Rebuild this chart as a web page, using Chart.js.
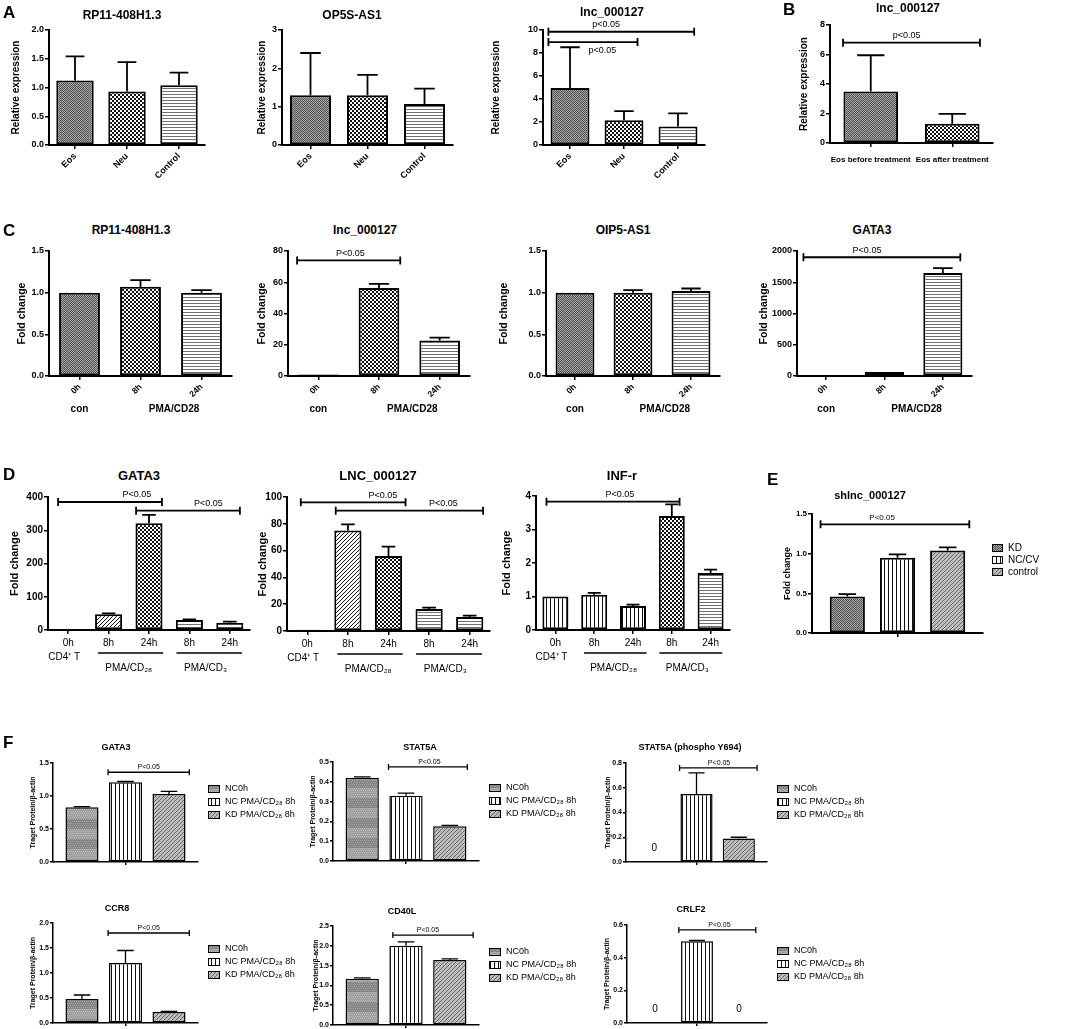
<!DOCTYPE html>
<html>
<head>
<meta charset="utf-8">
<script src="https://cdn.jsdelivr.net/npm/chart.js@4/dist/chart.umd.min.js"></script>
<style>
  body { margin: 0; background: #fff; width: 1084px; height: 1029px; position: relative; overflow: hidden; font-family: Arial, "Liberation Sans", sans-serif; }
  canvas { position: absolute; }
  .t { position: absolute; transform: translate(-50%, -50%); font-weight: bold; white-space: nowrap; color: #000; }
  .p { position: absolute; transform: translateY(-50%); font-weight: bold; color: #000; }
</style>
</head>
<body>
<script>
// ---- data ----
const aCats = ["Eos", "Neu", "Control"];
const a1Values = [1.12, 0.93, 1.04];
const a1Errors = [0.42, 0.51, 0.22];
const a2Values = [1.30, 1.30, 1.07];
const a2Errors = [1.10, 0.53, 0.40];
const a3Values = [4.95, 2.15, 1.60];
const a3Errors = [3.55, 0.80, 1.15];

const bCats = ["Eos before treatment", "Eos after treatment"];
const bValues = [3.5, 1.3];
const bErrors = [2.45, 0.68];

const cCats = ["0h", "8h", "24h"];
const c1Values = [1.0, 1.07, 1.0];
const c1Errors = [0, 0.08, 0.03];
const c2Values = [1, 56.4, 22.8];
const c2Errors = [0, 2.6, 1.8];
const c3Values = [1.0, 1.0, 1.02];
const c3Errors = [0, 0.03, 0.03];
const c4Values = [0, 65, 1650];
const c4Errors = [0, 0, 75];

const dCats = ["0h", "8h", "24h", "8h", "24h"];
const d1Values = [1, 47, 321, 30, 22];
const d1Errors = [0, 3, 25, 2, 3];
const d2Values = [1, 75, 56, 16.5, 10.5];
const d2Errors = [0, 4.5, 7, 1, 1];
const d3Values = [1.0, 1.05, 0.72, 3.4, 1.7];
const d3Errors = [0, 0.06, 0.04, 0.35, 0.1];

const eSeries = ["KD", "NC/CV", "control"];
const eValues = [0.46, 0.95, 1.04];
const eErrors = [0.03, 0.04, 0.04];

const fSeries = ["NC0h", "NC PMA/CD₂₈ 8h", "KD PMA/CD₂₈ 8h"];
const fGata3 = [0.83, 1.21, 1.03];
const fGata3Err = [0.01, 0.01, 0.04];
const fStat5a = [0.42, 0.33, 0.175];
const fStat5aErr = [0.005, 0.013, 0.005];
const fPStat5a = [0, 0.55, 0.19];
const fPStat5aErr = [0, 0.17, 0.01];
const fCcr8 = [0.48, 1.2, 0.22];
const fCcr8Err = [0.08, 0.25, 0.01];
const fCd40l = [1.17, 2.0, 1.64];
const fCd40lErr = [0.02, 0.1, 0.03];
const fCrlf2 = [0, 0.5, 0];
const fCrlf2Err = [0, 0.005, 0];

const FONT = "Arial, 'Liberation Sans', sans-serif";

// ---- fill patterns ----
function tile(w, h, draw) {
  const c = document.createElement("canvas");
  c.width = w; c.height = h;
  const g = c.getContext("2d");
  draw(g);
  return g.createPattern(c, "repeat");
}
const pat = {
  gray: tile(2, 2, g => { g.fillStyle = "#a4a4a4"; g.fillRect(0, 0, 2, 2); g.fillStyle = "#555"; g.fillRect(0, 0, 1, 1); g.fillRect(1, 1, 1, 1); }),
  check: tile(4, 4, g => { g.fillStyle = "#fff"; g.fillRect(0, 0, 4, 4); g.fillStyle = "#111"; g.fillRect(0, 0, 2, 2); g.fillRect(2, 2, 2, 2); }),
  hline: tile(1, 3, g => { g.fillStyle = "#fff"; g.fillRect(0, 0, 1, 3); g.fillStyle = "#707070"; g.fillRect(0, 0, 1, 1); }),
  vline: tile(4, 1, g => { g.fillStyle = "#fff"; g.fillRect(0, 0, 4, 1); g.fillStyle = "#111"; g.fillRect(0, 0, 1, 1); }),
  hatch: tile(4, 4, g => { g.fillStyle = "#fff"; g.fillRect(0, 0, 4, 4); g.fillStyle = "#111"; for (let i = 0; i < 4; i++) g.fillRect(i, 3 - i, 1, 1); }),
  grayHatch: tile(4, 4, g => { g.fillStyle = "#bdbdbd"; g.fillRect(0, 0, 4, 4); g.fillStyle = "#666"; for (let i = 0; i < 4; i++) g.fillRect(i, 3 - i, 1, 1); }),
  band: tile(2, 20, g => {
    g.fillStyle = "#a0a0a0"; g.fillRect(0, 0, 2, 10);
    g.fillStyle = "#858585"; g.fillRect(0, 10, 2, 10);
    g.fillStyle = "rgba(255,255,255,0.25)"; for (let y = 0; y < 20; y += 2) g.fillRect(y % 4 ? 0 : 1, y, 1, 1);
  })
};
const abcPats = [pat.gray, pat.check, pat.hline];
const dPats = [pat.vline, pat.hatch, pat.check, pat.hline, pat.hline];
const d3Pats = [pat.vline, pat.vline, pat.vline, pat.check, pat.hline];
const ePats = [pat.gray, pat.vline, pat.grayHatch];
const fPats = [pat.band, pat.vline, pat.grayHatch];

// ---- error bars, brackets, group labels, legends ----
const extras = {
  id: "extras",
  afterDatasetsDraw(chart, args, opts) {
    const ctx = chart.ctx, xs = chart.scales.x, ys = chart.scales.y;
    ctx.save();
    ctx.strokeStyle = "#000";
    ctx.fillStyle = "#000";
    ctx.lineWidth = opts.lw || 1.8;
    chart.data.datasets.forEach((ds, i) => {
      chart.getDatasetMeta(i).data.forEach((bar, j) => {
        const e = ds.errors[j];
        if (e) {
          const top = ys.getPixelForValue(ds.data[j] + e);
          const half = bar.width / 4;
          ctx.beginPath();
          ctx.moveTo(bar.x, bar.y); ctx.lineTo(bar.x, top);
          ctx.moveTo(bar.x - half, top); ctx.lineTo(bar.x + half, top);
          ctx.stroke();
        }
        if (opts.zeros && ds.data[j] === 0) {
          ctx.font = "10px " + FONT;
          ctx.textAlign = "center"; ctx.textBaseline = "middle";
          ctx.fillText("0", bar.x, ys.bottom - 14);
        }
      });
    });
    (opts.brackets || []).forEach(b => {
      const x1 = xs.getPixelForValue(b[0]), x2 = xs.getPixelForValue(b[1]);
      const y = ys.getPixelForValue(b[2]);
      const tk = opts.tick || 4;
      ctx.beginPath();
      ctx.moveTo(x1, y); ctx.lineTo(x2, y);
      ctx.moveTo(x1, y - tk); ctx.lineTo(x1, y + tk);
      ctx.moveTo(x2, y - tk); ctx.lineTo(x2, y + tk);
      ctx.stroke();
      ctx.font = (opts.bsize || 9) + "px " + FONT;
      ctx.textAlign = "center"; ctx.textBaseline = "middle";
      const off = opts.boff || 7;
      ctx.fillText(b[3], xs.getPixelForValue(b[5]), b[4] === "below" ? y + off + 1 : y - off);
    });
    (opts.lines || []).forEach(l => {
      const y = ys.bottom + l[2];
      ctx.lineWidth = 1.5;
      ctx.beginPath();
      ctx.moveTo(xs.getPixelForValue(l[0]), y); ctx.lineTo(xs.getPixelForValue(l[1]), y);
      ctx.stroke();
    });
    (opts.under || []).forEach(u => {
      ctx.font = u[3] + " " + FONT;
      ctx.textAlign = "center"; ctx.textBaseline = "middle";
      ctx.fillText(u[0], xs.getPixelForValue(u[1]), ys.bottom + u[2]);
    });
    if (opts.legend) {
      const L = opts.legend;
      ctx.font = L.size + "px " + FONT;
      ctx.textAlign = "left"; ctx.textBaseline = "middle";
      ctx.lineWidth = 1;
      chart.data.datasets.forEach((ds, i) => {
        const x = chart.chartArea.right + L.dx;
        const y = chart.chartArea.top + L.dy + i * L.gap;
        ctx.fillStyle = ds.backgroundColor;
        ctx.fillRect(x, y - L.sh / 2, L.sw, L.sh);
        ctx.strokeRect(x + 0.5, y - L.sh / 2 + 0.5, L.sw - 1, L.sh - 1);
        ctx.fillStyle = "#000";
        ctx.fillText(ds.label, x + L.sw + 5, y);
      });
    }
    ctx.restore();
  }
};
Chart.register(extras);

function addText(cls, txt, x, y, size) {
  const d = document.createElement("div");
  d.className = cls;
  d.textContent = txt;
  d.style.left = x + "px";
  d.style.top = y + "px";
  d.style.fontSize = size + "px";
  document.body.appendChild(d);
}

function makeChart(o) {
  const padTop = 14, padR = o.padR || 6;
  const yW = o.left - o.cl;
  const cv = document.createElement("canvas");
  cv.width = o.right - o.cl + padR;
  cv.height = padTop + (o.bottom - o.top) + o.xH;
  cv.style.left = o.cl + "px";
  cv.style.top = (o.top - padTop) + "px";
  document.body.appendChild(cv);

  const common = { borderColor: "#000", borderWidth: o.bw || 2, borderSkipped: false,
    barPercentage: o.barPct, categoryPercentage: o.catPct || 1 };
  let labels, datasets;
  if (o.series) {
    labels = [""];
    datasets = o.series.map((s, i) => Object.assign({ label: s, data: [o.values[i]], errors: [o.errors[i]], backgroundColor: o.pats[i] }, common));
  } else {
    labels = o.labels;
    datasets = [Object.assign({ data: o.values, errors: o.errors, backgroundColor: o.pats }, common)];
  }
  const axisLw = o.axisLw || 2;
  new Chart(cv, {
    type: "bar",
    data: { labels: labels, datasets: datasets },
    options: {
      responsive: false,
      animation: false,
      events: [],
      layout: { padding: { top: padTop, right: padR, left: 0, bottom: 0 } },
      plugins: {
        legend: { display: false },
        tooltip: { enabled: false },
        extras: o.extras || {}
      },
      scales: {
        x: {
          afterFit: s => { s.height = o.xH; },
          border: { color: "#000", width: axisLw },
          grid: { display: true, drawOnChartArea: false, offset: false, tickLength: o.tickLen || 4, color: "#000", lineWidth: 1.5 },
          ticks: { autoSkip: false, minRotation: o.rot || 0, maxRotation: o.rot || 0, padding: o.xPad || 2,
            color: "#000", font: { family: FONT, size: o.xSize || 9, weight: o.xWeight || "bold" } }
        },
        y: {
          min: 0, max: o.yMax,
          afterFit: s => { s.width = yW; },
          border: { color: "#000", width: axisLw },
          grid: { display: true, drawOnChartArea: false, tickLength: o.tickLen || 4, color: "#000", lineWidth: 1.5 },
          ticks: { stepSize: o.step, padding: 1, color: "#000",
            font: { family: FONT, size: o.ySize || 9, weight: "bold" },
            callback: v => v.toFixed(o.dec || 0) },
          title: { display: true, text: o.yTitle, color: "#000", padding: { top: 2, bottom: 0 },
            font: { family: FONT, size: o.yTitleSize || 9, weight: "bold" } }
        }
      }
    }
  });
  addText("t", o.title, o.tx, o.ty, o.tsize || 12);
}

// ---- panel A ----
const aBase = { top: 30, bottom: 145, xH: 35, labels: aCats, pats: abcPats, rot: 45, barPct: 0.72,
  yTitle: "Relative expression", yTitleSize: 10, ty: 15 };
makeChart(Object.assign({}, aBase, { cl: 8, left: 49, right: 205, values: a1Values, errors: a1Errors,
  yMax: 2, step: 0.5, dec: 1, title: "RP11-408H1.3", tx: 122 }));
makeChart(Object.assign({}, aBase, { cl: 254, left: 282, right: 453, values: a2Values, errors: a2Errors,
  yMax: 3, step: 1, title: "OP5S-AS1", tx: 352 }));
makeChart(Object.assign({}, aBase, { cl: 488, left: 543, right: 705, values: a3Values, errors: a3Errors,
  yMax: 10, step: 2, title: "lnc_000127", tx: 612, ty: 12,
  extras: { brackets: [[-0.4, 2.3, 9.85, "p<0.05", "above", 0.67], [-0.4, 1.25, 8.95, "p<0.05", "below", 0.6]] } }));

// ---- panel B ----
makeChart({ cl: 796, left: 830, top: 25, right: 993, bottom: 143, xH: 28, labels: bCats, values: bValues,
  errors: bErrors, pats: [pat.gray, pat.check], barPct: 0.67, xSize: 8, xPad: 8,
  yMax: 8, step: 2, yTitle: "Relative expression", yTitleSize: 10, title: "lnc_000127", tx: 908, ty: 8,
  extras: { brackets: [[-0.34, 1.34, 6.8, "p<0.05", "above", 0.44]] } });

// ---- panel C ----
const cUnder = [["con", 0, 33, "bold 10px"], ["PMA/CD28", 1.55, 33, "bold 10px"]];
const cBase = { top: 251, bottom: 376, xH: 45, labels: cCats, pats: abcPats, rot: 45, barPct: 0.67, xSize: 8.5,
  yTitle: "Fold change", yTitleSize: 10.5, ty: 230 };
makeChart(Object.assign({}, cBase, { cl: 14, left: 49, right: 232, values: c1Values, errors: c1Errors,
  yMax: 1.5, step: 0.5, dec: 1, title: "RP11-408H1.3", tx: 131, extras: { under: cUnder } }));
makeChart(Object.assign({}, cBase, { cl: 254, left: 288, right: 470, values: c2Values, errors: c2Errors,
  yMax: 80, step: 20, title: "lnc_000127", tx: 365,
  extras: { under: cUnder, brackets: [[-0.35, 1.35, 74, "P<0.05", "above", 0.53]] } }));
makeChart(Object.assign({}, cBase, { cl: 496, left: 546, right: 720, values: c3Values, errors: c3Errors,
  yMax: 1.5, step: 0.5, dec: 1, title: "OIP5-AS1", tx: 623, extras: { under: cUnder } }));
makeChart(Object.assign({}, cBase, { cl: 756, left: 797, right: 972, values: c4Values, errors: c4Errors,
  yMax: 2000, step: 500, title: "GATA3", tx: 872,
  extras: { under: cUnder, brackets: [[-0.39, 2.3, 1900, "P<0.05", "above", 0.7]] } }));

// ---- panel D ----
const dUnder = [["CD4⁺ T", -0.1, 27, "10px"], ["PMA/CD₂₈", 1.5, 38, "10px"], ["PMA/CD₃", 3.4, 38, "10px"]];
const dLines = [[0.74, 2.35, 23], [2.68, 4.3, 23]];
const dBase = { top: 497, bottom: 630, xH: 48, labels: dCats, barPct: 0.67, xSize: 10, xWeight: "normal",
  xPad: 3, ySize: 10, yTitle: "Fold change", yTitleSize: 11, ty: 475, tsize: 13 };
makeChart(Object.assign({}, dBase, { cl: 6, left: 48, right: 250, values: d1Values, errors: d1Errors, pats: dPats,
  yMax: 400, step: 100, title: "GATA3", tx: 139,
  extras: { under: dUnder, lines: dLines,
    brackets: [[-0.25, 2.32, 385, "P<0.05", "above", 1.7], [1.68, 4.25, 359, "P<0.05", "above", 3.47]] } }));
makeChart(Object.assign({}, dBase, { cl: 254, left: 287, right: 490, bottom: 631, values: d2Values, errors: d2Errors,
  pats: dPats, yMax: 100, step: 20, title: "LNC_000127", tx: 378,
  extras: { under: dUnder, lines: dLines,
    brackets: [[-0.16, 2.42, 96, "P<0.05", "above", 1.86], [0.7, 4.33, 89.8, "P<0.05", "above", 3.35]] } }));
makeChart(Object.assign({}, dBase, { cl: 498, left: 536, top: 496, right: 730, values: d3Values, errors: d3Errors,
  pats: d3Pats, yMax: 4, step: 1, title: "INF-r", tx: 622,
  extras: { under: dUnder, lines: dLines, brackets: [[-0.23, 3.2, 3.83, "P<0.05", "above", 1.66]] } }));

// ---- panel E ----
makeChart({ cl: 780, left: 812, top: 514, right: 983, bottom: 633, xH: 8, padR: 95, series: eSeries,
  values: eValues, errors: eErrors, pats: ePats, catPct: 0.88, barPct: 0.7, ySize: 8,
  yMax: 1.5, step: 0.5, dec: 1, yTitle: "Fold change", yTitleSize: 9, title: "shlnc_000127", tx: 870, ty: 495, tsize: 11,
  extras: { brackets: [[-0.45, 0.42, 1.37, "P<0.05", "above", -0.09]], bsize: 8,
    legend: { dx: 9, dy: 34, gap: 12, sw: 11, sh: 8, size: 10 } } });

// ---- panel F ----
const fBase = { xH: 8, padR: 110, series: fSeries, pats: fPats, catPct: 0.9, barPct: 0.76, ySize: 7,
  yTitle: "Traget Protein/β-actin", yTitleSize: 7, tsize: 9, dec: 1, bw: 1.5, tickLen: 3, axisLw: 1.5 };
const fLegend = { dx: 10, dy: 26, gap: 13, sw: 12, sh: 8, size: 9 };
const fEx = (b, zeros) => ({ brackets: [b], bsize: 7, boff: 5, tick: 3, lw: 1.3, legend: fLegend, zeros: zeros });
makeChart(Object.assign({}, fBase, { cl: 27, left: 53, top: 763, right: 198, bottom: 862, values: fGata3, errors: fGata3Err,
  yMax: 1.5, step: 0.5, title: "GATA3", tx: 116, ty: 747, extras: fEx([-0.12, 0.44, 1.36, "P<0.05", "above", 0.16]) }));
makeChart(Object.assign({}, fBase, { cl: 307, left: 333, top: 762, right: 479, bottom: 861, values: fStat5a, errors: fStat5aErr,
  yMax: 0.5, step: 0.1, title: "STAT5A", tx: 420, ty: 747, extras: fEx([-0.12, 0.42, 0.475, "P<0.05", "above", 0.16]) }));
makeChart(Object.assign({}, fBase, { cl: 602, left: 626, top: 763, right: 767, bottom: 862, values: fPStat5a, errors: fPStat5aErr,
  yMax: 0.8, step: 0.2, title: "STAT5A (phospho Y694)", tx: 690, ty: 747,
  extras: fEx([-0.12, 0.43, 0.76, "P<0.05", "above", 0.16], true) }));
makeChart(Object.assign({}, fBase, { cl: 27, left: 53, top: 923, right: 198, bottom: 1023, values: fCcr8, errors: fCcr8Err,
  yMax: 2, step: 0.5, title: "CCR8", tx: 117, ty: 908, extras: fEx([-0.12, 0.44, 1.8, "P<0.05", "above", 0.16]) }));
makeChart(Object.assign({}, fBase, { cl: 310, left: 333, top: 926, right: 479, bottom: 1025, values: fCd40l, errors: fCd40lErr,
  yMax: 2.5, step: 0.5, title: "CD40L", tx: 402, ty: 911, extras: fEx([-0.09, 0.46, 2.27, "P<0.05", "above", 0.15]) }));
makeChart(Object.assign({}, fBase, { cl: 601, left: 627, top: 925, right: 767, bottom: 1023, values: fCrlf2, errors: fCrlf2Err,
  yMax: 0.6, step: 0.2, title: "CRLF2", tx: 691, ty: 909,
  extras: fEx([-0.13, 0.42, 0.57, "P<0.05", "above", 0.16], true) }));

// ---- panel letters ----
addText("p", "A", 3, 13, 17);
addText("p", "B", 783, 10, 17);
addText("p", "C", 3, 231, 17);
addText("p", "D", 3, 475, 17);
addText("p", "E", 767, 480, 17);
addText("p", "F", 3, 743, 17);
</script>
</body>
</html>
